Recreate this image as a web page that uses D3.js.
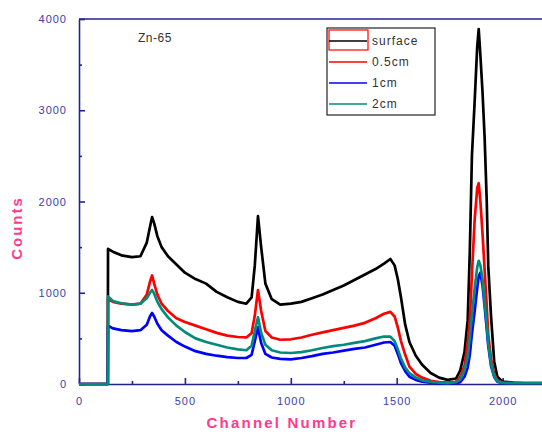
<!DOCTYPE html>
<html>
<head>
<meta charset="utf-8">
<script src="https://cdn.jsdelivr.net/npm/d3@7"></script>
<style>
  body { margin: 0; background: #fff; }
  svg { font-family: 'Liberation Sans', Arial, sans-serif; }
</style>
</head>
<body>
<div id="root"></div>
<script>
var channels = [0, 136, 137, 160, 200, 250, 290, 320, 335, 345, 355, 370, 390, 420, 460, 500, 550, 600, 650, 700, 750, 790, 815, 830, 845, 860, 880, 910, 950, 1000, 1050, 1100, 1150, 1200, 1250, 1300, 1350, 1400, 1440, 1470, 1490, 1505, 1520, 1540, 1560, 1590, 1620, 1660, 1700, 1740, 1780, 1800, 1820, 1835, 1845, 1855, 1868, 1880, 1887, 1895, 1905, 1915, 1925, 1932, 1945, 1960, 1975, 2000, 2050, 2100, 2200];

var surface = [0, 0, 1480, 1450, 1410, 1390, 1400, 1550, 1720, 1830, 1760, 1620, 1500, 1400, 1310, 1220, 1150, 1100, 1010, 950, 900, 880, 950, 1300, 1840, 1500, 1100, 930, 870, 880, 900, 940, 980, 1030, 1080, 1140, 1200, 1260, 1320, 1370, 1300, 1150, 950, 650, 460, 310, 210, 120, 70, 45, 60, 150, 350, 700, 1450, 2500, 3100, 3700, 3890, 3600, 3200, 2700, 2000, 1300, 750, 250, 80, 25, 15, 10, 10];

var cm05 = [0, 0, 930, 900, 880, 870, 880, 980, 1120, 1190, 1100, 980, 880, 800, 720, 680, 640, 600, 560, 530, 515, 510, 560, 750, 1030, 800, 580, 510, 485, 490, 510, 540, 565, 590, 615, 640, 670, 720, 770, 790, 740, 620, 470, 320, 190, 110, 70, 35, 20, 15, 25, 80, 200, 450, 700, 1200, 1800, 2150, 2200, 2000, 1650, 1250, 850, 550, 280, 110, 40, 15, 10, 8, 8];

var cm1 = [0, 0, 640, 610, 590, 580, 590, 650, 740, 780, 740, 660, 590, 530, 460, 410, 360, 330, 310, 295, 285, 285, 320, 470, 620, 450, 330, 290, 275, 270, 285, 305, 330, 345, 365, 385, 400, 430, 455, 460, 420, 330, 230, 140, 80, 45, 25, 15, 10, 8, 10, 20, 80, 180, 320, 550, 800, 1050, 1180, 1220, 1080, 850, 600, 420, 200, 80, 25, 10, 8, 8, 8];

var cm2 = [0, 0, 960, 910, 885, 870, 880, 940, 1000, 1030, 990, 900, 820, 730, 640, 570, 500, 460, 430, 400, 380, 370, 420, 580, 730, 560, 430, 370, 345, 340, 350, 370, 395, 415, 430, 450, 470, 500, 520, 520, 470, 380, 280, 180, 120, 70, 40, 25, 15, 10, 20, 50, 150, 300, 500, 750, 1050, 1280, 1350, 1300, 1150, 900, 650, 450, 220, 90, 30, 12, 10, 10, 10];

var seriesNames = ['surface', '0.5cm', '1cm', '2cm'];
var seriesColours = ['#000000', '#ff0000', '#0000ff', '#008b7d'];
var seriesValues = [surface, cm05, cm1, cm2];

var xTicks = [0, 500, 1000, 1500, 2000],
    xMinor = [250, 750, 1250, 1750],
    yTicks = [0, 1000, 2000, 3000, 4000],
    yMinor = [500, 1500, 2500, 3500];

var w = 542, h = 434;
var plotLeft = 79, plotTop = 19, plotBottom = 384, plotRight = 545;
var axisColour = '#23238c', labelColour = '#3d3da6', titleColour = '#ff3a8c';

var svg = d3.select('#root')
  .append('svg')
    .attr('width', w)
    .attr('height', h);

var x = d3.scaleLinear().domain([0, 2200]).range([plotLeft, plotRight]);
var y = d3.scaleLinear().domain([0, 4000]).range([plotBottom, plotTop]);

// frame line along the top
svg.append('line')
    .attr('x1', plotLeft).attr('x2', w)
    .attr('y1', plotTop).attr('y2', plotTop)
    .attr('stroke', axisColour).attr('stroke-width', 1.6);

svg.append('g')
    .attr('transform', 'translate(0,' + plotBottom + ')')
    .call(d3.axisBottom(x).tickValues(xTicks).tickFormat(d3.format('d'))
      .tickSizeInner(-6).tickSizeOuter(0).tickPadding(13));

svg.append('g')
    .attr('transform', 'translate(0,' + plotBottom + ')')
    .call(d3.axisBottom(x).tickValues(xMinor).tickSizeInner(-3).tickSizeOuter(0).tickFormat(''))
    .select('.domain').remove();

svg.append('g')
    .attr('transform', 'translate(' + plotLeft + ',0)')
    .call(d3.axisLeft(y).tickValues(yTicks).tickFormat(d3.format('d'))
      .tickSizeInner(-6).tickSizeOuter(0).tickPadding(12));

svg.append('g')
    .attr('transform', 'translate(' + plotLeft + ',0)')
    .call(d3.axisLeft(y).tickValues(yMinor).tickSizeInner(-3).tickSizeOuter(0).tickFormat(''))
    .select('.domain').remove();

svg.selectAll('.domain, .tick line')
    .attr('stroke', axisColour)
    .attr('stroke-width', 1.6);

svg.selectAll('.tick text')
    .attr('fill', labelColour)
    .style('font-size', '11px')
    .style('letter-spacing', '1px');

// spectra (thick strokes stand in for the counting noise band)
var line = d3.line()
  .x(function (d, i) { return x(channels[i]); })
  .y(function (d) { return y(d); });

seriesValues.forEach(function (values, k) {
  svg.append('path')
      .datum(values)
      .attr('d', line)
      .attr('fill', 'none')
      .attr('stroke', seriesColours[k])
      .attr('stroke-width', 2.7)
      .attr('stroke-linejoin', 'round');
});

// titles
svg.append('text')
    .attr('x', 282).attr('y', 428)
    .attr('text-anchor', 'middle')
    .attr('fill', titleColour)
    .style('font-size', '15px')
    .style('font-weight', 'bold')
    .style('letter-spacing', '2.2px')
    .text('Channel Number');

svg.append('text')
    .attr('transform', 'translate(22,228) rotate(-90)')
    .attr('text-anchor', 'middle')
    .attr('fill', titleColour)
    .style('font-size', '15px')
    .style('font-weight', 'bold')
    .style('letter-spacing', '2px')
    .text('Counts');

svg.append('text')
    .attr('x', 138).attr('y', 42)
    .attr('fill', '#333')
    .style('font-size', '12px')
    .style('letter-spacing', '0.5px')
    .text('Zn-65');

// legend
var legend = svg.append('g');
legend.append('rect')
    .attr('x', 327).attr('y', 28)
    .attr('width', 108).attr('height', 87)
    .attr('fill', '#fff')
    .attr('stroke', '#222')
    .attr('stroke-width', 1.2);

legend.append('rect')
    .attr('x', 329).attr('y', 30)
    .attr('width', 39).attr('height', 20)
    .attr('fill', 'none')
    .attr('stroke', '#ff0000')
    .attr('stroke-width', 1.2);

var legendY = [41, 62, 83, 104];
seriesNames.forEach(function (name, i) {
  legend.append('line')
      .attr('x1', 329).attr('x2', 367)
      .attr('y1', legendY[i]).attr('y2', legendY[i])
      .attr('stroke', seriesColours[i])
      .attr('stroke-width', 1.4);
  legend.append('text')
      .attr('x', 372).attr('y', legendY[i] + 4)
      .attr('fill', '#333')
      .style('font-size', '12px')
      .style('letter-spacing', '1px')
      .text(name);
});
</script>
</body>
</html>
